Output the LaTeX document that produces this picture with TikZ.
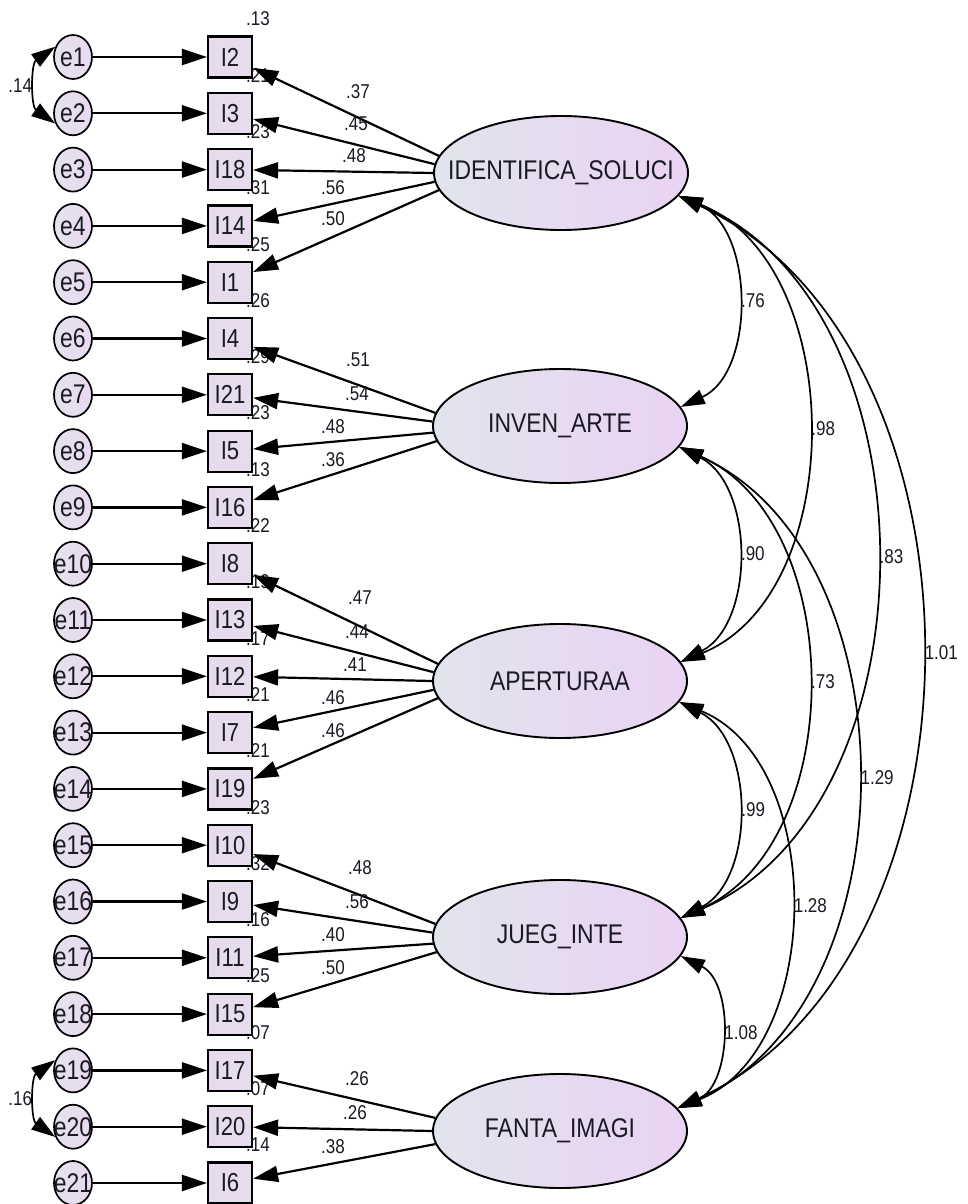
\documentclass[tikz,border=0pt]{standalone}
\usepackage{fontspec}
\setmainfont{Liberation Sans}[FakeStretch=0.85]
\usetikzlibrary{arrows.meta,shapes.geometric}
\definecolor{boxfill}{HTML}{E6DCEE}
\definecolor{latL}{HTML}{E1E4EC}
\definecolor{latR}{HTML}{EAD3F3}
\definecolor{errL}{HTML}{E4E2EC}
\definecolor{errR}{HTML}{E9D9F1}
\definecolor{txt}{HTML}{1A1A24}
\begin{document}
\begin{tikzpicture}[x=1pt,y=-1pt,
  every node/.style={text=txt},
  obs/.style={draw, line width=2.2pt, fill=boxfill, minimum width=44pt, minimum height=41pt, inner sep=0pt, font=\fontsize{26}{28}\selectfont},
  err/.style={ellipse, draw, line width=1.7pt, left color=errL, right color=errR, minimum width=38pt, minimum height=44pt, inner sep=0pt, font=\fontsize{27}{29}\selectfont},
  lat/.style={ellipse, draw, line width=1.9pt, left color=latL, right color=latR, minimum width=254pt, minimum height=114pt, inner sep=0pt, font=\fontsize{27}{29}\selectfont},
  num/.style={font=\fontsize{20}{22}\selectfont, inner sep=0pt},
  arr/.style={line width=2.2pt, -{Triangle[length=25pt,width=16pt]}},
  cov/.style={line width=1.7pt, {Triangle[length=24pt,width=15pt]}-{Triangle[length=24pt,width=15pt]}},
]
\fill[white] (0,0) rectangle (967,1204);
\useasboundingbox (0,0) rectangle (967,1204);

% latent factors
\node[lat] (ident) at (561,173) {\makebox[0pt]{IDENTIFICA\_SOLUCI}};
\node[lat] (inven) at (560,426) {\makebox[0pt]{INVEN\_ARTE}};
\node[lat] (apert) at (560,681) {\makebox[0pt]{APERTURAA}};
\node[lat] (jueg)  at (560,937) {\makebox[0pt]{JUEG\_INTE}};
\node[lat] (fanta) at (560,1131) {\makebox[0pt]{FANTA\_IMAGI}};

% observed items and errors
\foreach \lab [count=\k] in {I2,I3,I18,I14,I1,I4,I21,I5,I16,I8,I13,I12,I7,I19,I10,I9,I11,I15,I17,I20,I6}{
  \node[obs] (b\k) at (230,{57+(\k-1)*56.3}) {\lab};
  \node[err] (e\k) at (73,{57+(\k-1)*56.3}) {\makebox[0pt]{e\k}};
  \draw[arr] (e\k) -- (b\k);
}

% squared multiple correlations
\foreach \r [count=\k] in {.13,.21,.23,.31,.25,.26,.29,.23,.13,.22,.19,.17,.21,.21,.23,.32,.16,.25,.07,.07,.14}{
  \node[num] (r\k) at (258,{57+(\k-1)*56.3-38}) {\r};
}

% loadings
\foreach \b/\a in {1/172,2/176,3/180,4/184,5/188} \draw[arr] (ident.\a) -- (b\b);
\foreach \b/\a in {6/174,7/178.5,8/183,9/187.5} \draw[arr] (inven.\a) -- (b\b);
\foreach \b/\a in {10/172,11/176,12/180,13/184,14/188} \draw[arr] (apert.\a) -- (b\b);
\foreach \b/\a in {15/174,16/178.5,17/183,18/187.5} \draw[arr] (jueg.\a) -- (b\b);
\foreach \b/\a in {19/174,20/180,21/186} \draw[arr] (fanta.\a) -- (b\b);

\foreach \v/\x/\y [count=\i] in {.37/358/92,.45/356/124,.48/354/156,.56/333/188,.50/333/219,
  .51/358/360,.54/357/394,.48/333/427,.36/333/460,
  .47/360/598,.44/357/632,.41/355/665,.46/333/698,.46/333/731,
  .48/360/868,.56/357/902,.40/333/935,.50/333/968,
  .26/357/1079,.26/355/1113,.38/333/1147}{
  \node[num] (l\i) at (\x,\y) {\v};
}

% factor covariances
\draw[cov] (ident.-11) to[bend left=66] node[num, right, inner sep=4pt] (c1) {.76} (inven.9);
\draw[cov] (ident.-11) to[bend left=68] node[num, right, inner sep=4pt] (c2) {.98} (apert.9);
\draw[cov] (ident.-11) to[bend left=67] node[num, right, inner sep=4pt] (c3) {.83} (jueg.9);
\draw[cov] (ident.-11) to[bend left=65] node[num, right, inner sep=4pt] (c4) {1.01} (fanta.11);
\draw[cov] (inven.-10) to[bend left=63] node[num, right, inner sep=4pt] (c5) {.90} (apert.9);
\draw[cov] (inven.-10) to[bend left=66] node[num, right, inner sep=4pt] (c6) {.73} (jueg.9);
\draw[cov] (inven.-10) to[bend left=66] node[num, right, inner sep=4pt] (c7) {1.29} (fanta.11);
\draw[cov] (apert.-10) to[bend left=63] node[num, right, inner sep=4pt] (c8) {.99} (jueg.9);
\draw[cov] (apert.-10) to[bend left=68] node[num, right, inner sep=4pt] (c9) {1.28} (fanta.11);
\draw[cov] (jueg.-9) to[bend left=65] node[num, right, inner sep=4pt] (c10) {1.08} (fanta.11);

% error covariances
\draw[cov] (e1.150) to[bend right=55] node[num, left, inner sep=4pt] (ce1) {.14} (e2.210);
\draw[cov] (e19.150) to[bend right=55] node[num, left, inner sep=4pt] (ce2) {.16} (e20.210);
\end{tikzpicture}
\end{document}
